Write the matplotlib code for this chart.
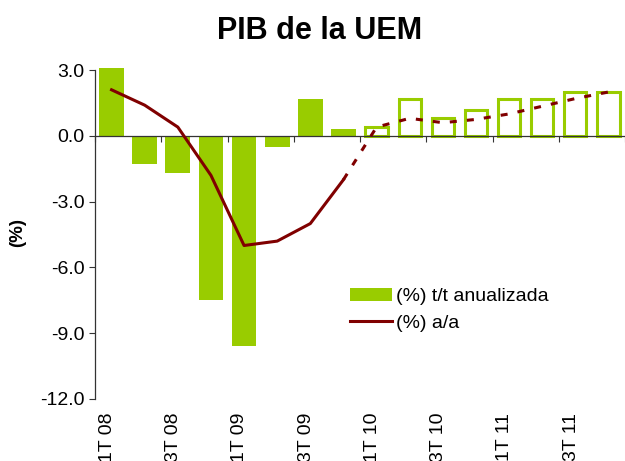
import numpy as np
import matplotlib.pyplot as plt

plt.rcParams['font.family'] = ['Liberation Sans', 'DejaVu Sans']

# quarters 2008-2011
quarters = ['1T 08', '2T 08', '3T 08', '4T 08',
            '1T 09', '2T 09', '3T 09', '4T 09',
            '1T 10', '2T 10', '3T 10', '4T 10',
            '1T 11', '2T 11', '3T 11', '4T 11']
# (%) t/t anualizada
tt_anual = [3.1, -1.3, -1.7, -7.5, -9.6, -0.5, 1.7, 0.3,
            0.4, 1.7, 0.8, 1.2, 1.7, 1.7, 2.0, 2.0]
# (%) a/a
aa = [2.1, 1.4, 0.4, -1.8, -5.0, -4.8, -4.0, -2.0,
      0.4, 0.8, 0.6, 0.75, 1.0, 1.35, 1.7, 2.0]
first_forecast = 8  # hollow bars / dashed line from here
yticks = [-12.0, -9.0, -6.0, -3.0, 0.0, 3.0]

green = '#99cc00'
red = '#800000'
fs = 14

fig = plt.figure(figsize=(6.25, 4.61), dpi=100)
ax = fig.add_axes([0.152, 0.1345, 0.848, 0.7135])

x = np.arange(len(quarters))
f = first_forecast
bars = ax.bar(x[:f], tt_anual[:f], width=0.75, color=green, clip_on=False, zorder=2)
ax.bar(x[f:], tt_anual[f:], width=0.67, facecolor='white', edgecolor=green,
       linewidth=2.2, clip_on=False, zorder=2)

line, = ax.plot(x[:f], aa[:f], color=red, lw=2.2, zorder=3)
ax.plot(x[f - 1:], aa[f - 1:], color=red, lw=2.2, linestyle=(0, (2.3, 3.3)), zorder=3)

ax.set_xlim(-0.5, len(quarters) - 0.5)
ax.set_ylim(-12, 3)
ax.set_yticks(yticks)
ax.set_yticklabels(['%.1f' % v for v in yticks], fontsize=fs)

ax.spines['top'].set_visible(False)
ax.spines['right'].set_visible(False)
ax.spines['bottom'].set_position(('data', 0))
for s in ['left', 'bottom']:
    ax.spines[s].set_color('#333333')
    ax.spines[s].set_linewidth(0.9)

ax.set_xticks(np.arange(-0.5, len(quarters), 2))
ax.set_xticklabels([])
ax.tick_params(axis='x', direction='out', length=4, color='#333333')
ax.tick_params(axis='y', direction='out', length=4, color='#333333')

# category labels at the bottom of the plot
for i in range(0, len(quarters), 2):
    ax.annotate(quarters[i], xy=(i, 0), xycoords=('data', 'axes fraction'),
                xytext=(-3, -10), textcoords='offset points', rotation=90,
                ha='center', va='top', fontsize=fs)

ax.set_ylabel('(%)', fontsize=13.5, fontweight='bold')
ax.yaxis.set_label_coords(-0.13, 0.506)

fig.text(0.511, 1 - 39 / 461, 'PIB de la UEM', ha='center', va='baseline',
         fontsize=22, fontweight='bold')

ax.legend([bars, line], ['(%) t/t anualizada', '(%) a/a'], loc='center left',
          bbox_to_anchor=(0.482, 0.272), frameon=False, borderpad=0,
          borderaxespad=0, handlelength=2.16, handletextpad=0.2,
          labelspacing=0.45, fontsize=fs)

fig.savefig('out.png', dpi=100)
